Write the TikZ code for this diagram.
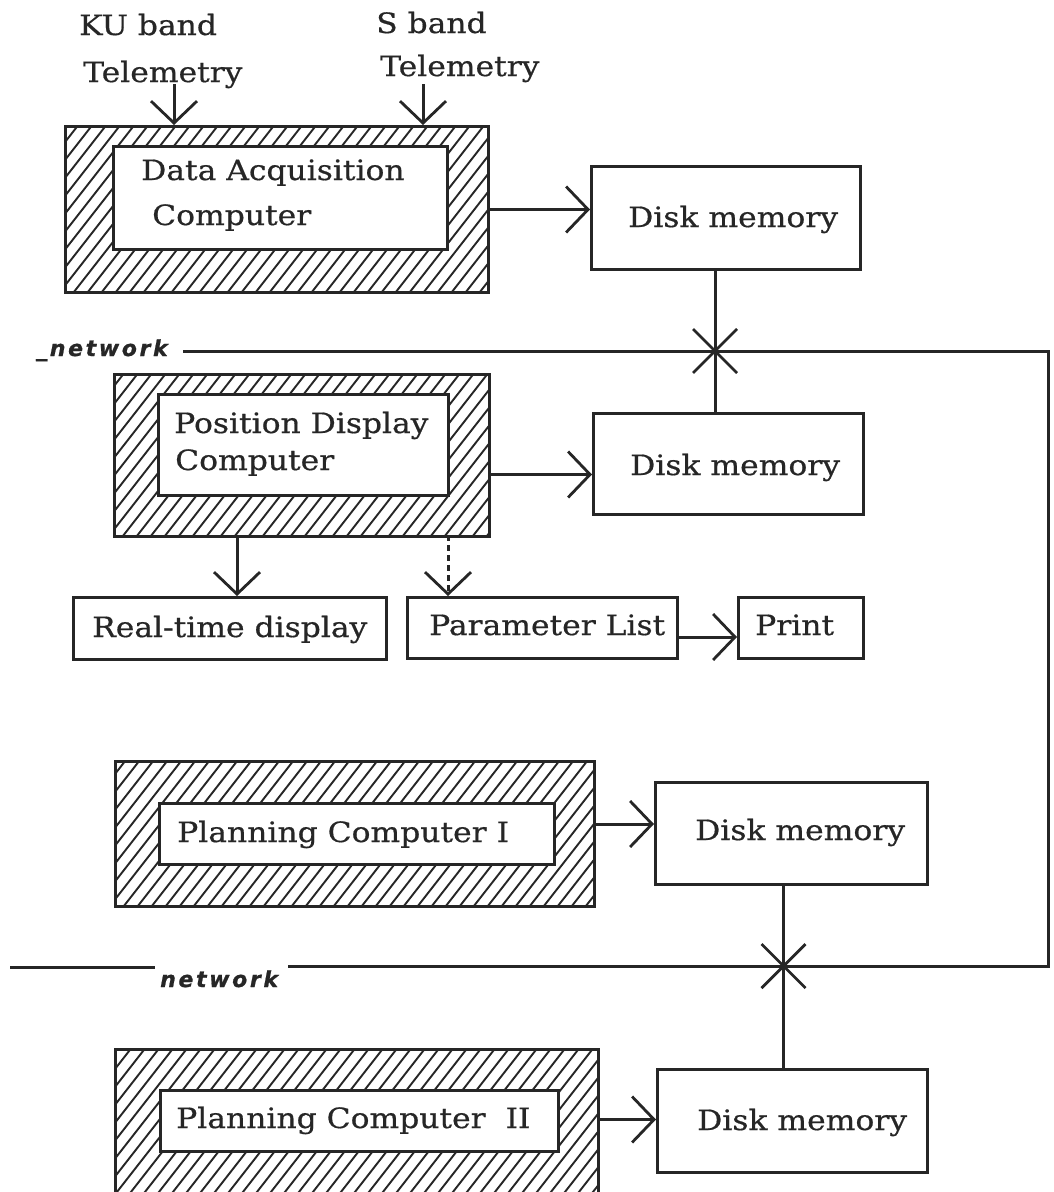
\documentclass[tikz,border=0pt]{standalone}
\usepackage{fontspec}
\setmainfont{DejaVu Serif}
\newfontfamily\lblfont{DejaVu Serif}[FakeStretch=1.12,FakeBold=0.6]
\newfontfamily\netfont{DejaVu Sans Bold Oblique}[LetterSpace=12,FakeBold=0.8]
\usetikzlibrary{arrows.meta}

\definecolor{ink}{RGB}{38,38,38}

\tikzset{
  ink line/.style={draw=ink, line width=3pt},
  hatchbox/.style={ink line, rectangle, inner sep=0pt, anchor=north west,
    path picture={
      \foreach \k in {-160,-146,...,520}
        \draw[ink, line width=1.9pt]
          ([xshift=\k pt]path picture bounding box.south west) -- ++(52:300pt);
    }},
  innerbox/.style={ink line, rectangle, inner sep=0pt, anchor=north west, fill=white},
  plainbox/.style={ink line, rectangle, inner sep=0pt, anchor=north west},
  lbl/.style={inner sep=0pt, anchor=base west, text=ink, font=\lblfont\fontsize{28}{32}\selectfont},
  netlbl/.style={inner sep=0pt, anchor=base west, text=ink, font=\netfont\fontsize{22}{24}\selectfont},
  flow/.style={ink line, -{Straight Barb[length=22pt,width=46pt,line width=2.8pt]}},
  link/.style={ink line},
  tap/.style={draw=ink, line width=2.8pt},
}

\begin{document}
\begin{tikzpicture}[x=1pt,y=-1pt]
\useasboundingbox (0,0) rectangle (1054,1192);
\clip (0,0) rectangle (1054,1192);
\fill[white] (0,0) rectangle (1054,1192);

% ---- Data acquisition stage ----
\node[hatchbox, minimum width=423pt, minimum height=166pt] (acq) at (64,125) {};
\node[innerbox, minimum width=334pt, minimum height=103pt] (acqin) at (112,145) {};
\node[lbl] (acqt1) at (141,180) {Data Acquisition};
\node[lbl] (acqt2) at (152,225) {Computer};

\node[lbl] (ku1) at (79,35) {KU band};
\node[lbl] (ku2) at (83,82) {Telemetry};
\node[lbl] (sb1) at (376,33) {S band};
\node[lbl] (sb2) at (380,76) {Telemetry};
\coordinate (kuin) at (174,84);
\coordinate (sbin) at (423,84);
\draw[flow] (kuin) -- (kuin |- acq.north);
\draw[flow] (sbin) -- (sbin |- acq.north);

\node[plainbox, minimum width=269pt, minimum height=103pt] (disk1) at (590,165) {};
\node[lbl] (disk1t) at (628,227) {Disk memory};
\draw[flow] (acq.east) -- (acq.east -| disk1.west);

% ---- Position display stage ----
\node[hatchbox, minimum width=375pt, minimum height=162pt] (pos) at (113,373) {};
\node[innerbox, minimum width=290pt, minimum height=101pt] (posin) at (157,393) {};
\node[lbl] (post1) at (174,433) {Position Display};
\node[lbl] (post2) at (175,470) {Computer};

\node[plainbox, minimum width=270pt, minimum height=101pt] (disk2) at (592,412) {};
\node[lbl] (disk2t) at (630,475) {Disk memory};
\draw[flow] ([yshift=-19pt]pos.east) -- ([yshift=-19pt]pos.east -| disk2.west);

\node[plainbox, minimum width=313pt, minimum height=62pt] (rt) at (72,596) {};
\node[lbl] (rtt) at (92,637) {Real-time display};
\node[plainbox, minimum width=270pt, minimum height=61pt] (plist) at (406,596) {};
\node[lbl] (plistt) at (429,635) {Parameter List};
\node[plainbox, minimum width=125pt, minimum height=61pt] (print) at (737,596) {};
\node[lbl] (printt) at (755,635) {Print};

\coordinate (rtin) at (237,535);
\coordinate (plin) at (448,535);
\draw[flow] (rtin) -- (rtin |- rt.north);
\draw[flow, dash pattern=on 6pt off 4pt] (plin) -- (plin |- plist.north);
\draw[flow] ([yshift=-9pt]plist.east) -- ([yshift=-9pt]plist.east -| print.west);

% ---- Planning computer I ----
\node[hatchbox, minimum width=479pt, minimum height=145pt] (pl1) at (114,760) {};
\node[innerbox, minimum width=395pt, minimum height=61pt] (pl1in) at (158,802) {};
\node[lbl] (pl1t) at (177,842) {Planning Computer I};
\node[plainbox, minimum width=272pt, minimum height=102pt] (disk3) at (654,781) {};
\node[lbl] (disk3t) at (695,840) {Disk memory};
\draw[flow] ([yshift=10pt]pl1.east) -- ([yshift=10pt]pl1.east -| disk3.west);

% ---- Planning computer II ----
\node[hatchbox, minimum width=483pt, minimum height=152pt] (pl2) at (114,1048) {};
\node[innerbox, minimum width=398pt, minimum height=61pt] (pl2in) at (159,1089) {};
\node[lbl] (pl2t) at (176,1128) {Planning Computer\hspace{20pt}II};
\node[plainbox, minimum width=270pt, minimum height=103pt] (disk4) at (656,1068) {};
\node[lbl] (disk4t) at (697,1130) {Disk memory};
\draw[flow] ([yshift=6pt]pl2.east) -- ([yshift=6pt]pl2.east -| disk4.west);

% ---- Network loop ----
\node[netlbl] (net1) at (36,356) {\_network};
\node[netlbl] (net2) at (160,987) {network};
\coordinate (ntl) at (183,351);
\coordinate (ntr) at (1048,351);
\coordinate (nbr) at (1048,966);
\coordinate (nbm) at (288,966);
\coordinate (nbl) at (10,967);
\coordinate (nbl2) at (155,967);
\draw[link] (ntl) -- (ntr) -- (nbr) -- (nbm);
\draw[link] (nbl) -- (nbl2);

% taps of the disks onto the network
\coordinate (d1tap) at ([xshift=-11pt]disk1.south);
\coordinate (d3tap) at ([xshift=-8pt]disk3.south);
\draw[link] (d1tap) -- (d1tap |- disk2.north);
\draw[link] (d3tap) -- (d3tap |- disk4.north);
\coordinate (x1) at (d1tap |- ntl);
\coordinate (x2) at (d3tap |- nbr);
\draw[tap] ([shift={(-22pt,-22pt)}]x1) -- ([shift={(22pt,22pt)}]x1);
\draw[tap] ([shift={(-22pt,22pt)}]x1) -- ([shift={(22pt,-22pt)}]x1);
\draw[tap] ([shift={(-22pt,-22pt)}]x2) -- ([shift={(22pt,22pt)}]x2);
\draw[tap] ([shift={(-22pt,22pt)}]x2) -- ([shift={(22pt,-22pt)}]x2);
\end{tikzpicture}
\end{document}
